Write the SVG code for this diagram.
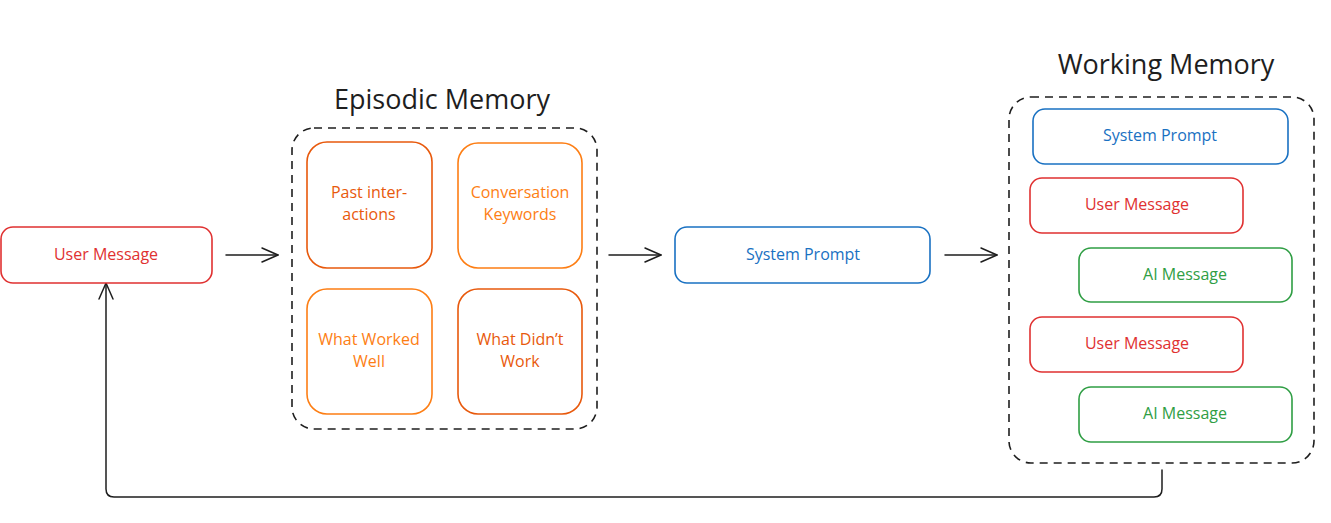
<svg xmlns="http://www.w3.org/2000/svg" width="1331" height="523" viewBox="0 0 1331 523">
<defs>
<marker id="arr" viewBox="0 0 20 20" refX="18" refY="10" markerWidth="20" markerHeight="20" markerUnits="userSpaceOnUse" orient="auto">
<path d="M2,3 L18,10 L2,17" fill="none" stroke="#1e1e1e" stroke-width="1.5" stroke-linecap="round" stroke-linejoin="round"/>
</marker>
</defs>
<style>
text{font-family:"Open Sans","Noto Sans","Liberation Sans",sans-serif;text-anchor:middle;dominant-baseline:central}
.lbl{font-size:16px}
.title{font-size:27px;fill:#1e1e1e}
.box{fill:#ffffff;stroke-width:1.6}
.red{stroke:#e03131}.redt{fill:#e03131}
.blue{stroke:#1971c2}.bluet{fill:#1971c2}
.green{stroke:#2f9e44}.greent{fill:#2f9e44}
.org{stroke:#e8590c}.orgt{fill:#e8590c}
.org2{stroke:#fd7e14}.org2t{fill:#fd7e14}
.cont{fill:none;stroke:#1e1e1e;stroke-width:1.6;stroke-dasharray:8 6}
.conn{fill:none;stroke:#1e1e1e;stroke-width:1.5;stroke-linecap:round}
</style>
<rect width="1331" height="523" fill="#ffffff"/>

<g id="episodic-memory">
<rect class="cont" x="292" y="128" width="305" height="301" rx="22"/>
<text class="title" x="442" y="98">Episodic Memory</text>
</g>
<g id="working-memory">
<rect class="cont" x="1009" y="97" width="305" height="366" rx="22"/>
<text class="title" x="1166" y="63">Working Memory</text>
</g>

<g id="connectors">
<line class="conn" x1="226" y1="255" x2="278" y2="255" marker-end="url(#arr)"/>
<line class="conn" x1="609" y1="255" x2="661" y2="255" marker-end="url(#arr)"/>
<line class="conn" x1="945" y1="255" x2="997" y2="255" marker-end="url(#arr)"/>
<path class="conn" d="M1162,470 L1162,489 Q1162,497 1154,497 L114,497 Q106,497 106,489 L106,283" marker-end="url(#arr)"/>
</g>

<g id="user-message">
<rect class="box red" x="1" y="227" width="211" height="56" rx="12"/>
<text class="lbl redt" x="106" y="254">User Message</text>
</g>

<g id="past-interactions">
<rect class="box org" x="307" y="142" width="125" height="126" rx="20"/>
<text class="lbl orgt" x="369" y="192">Past inter-</text>
<text class="lbl orgt" x="369" y="214">actions</text>
</g>
<g id="conversation-keywords">
<rect class="box org2" x="458" y="143" width="124" height="125" rx="20"/>
<text class="lbl org2t" x="520" y="192">Conversation</text>
<text class="lbl org2t" x="520" y="214">Keywords</text>
</g>
<g id="what-worked-well">
<rect class="box org2" x="307" y="289" width="125" height="125" rx="20"/>
<text class="lbl org2t" x="369" y="339">What Worked</text>
<text class="lbl org2t" x="369" y="361">Well</text>
</g>
<g id="what-didnt-work">
<rect class="box org" x="458" y="289" width="124" height="125" rx="20"/>
<text class="lbl orgt" x="520" y="339">What Didn’t</text>
<text class="lbl orgt" x="520" y="361">Work</text>
</g>

<g id="system-prompt">
<rect class="box blue" x="675" y="227" width="255" height="56" rx="12"/>
<text class="lbl bluet" x="803" y="254">System Prompt</text>
</g>

<g id="wm-system-prompt">
<rect class="box blue" x="1033" y="109" width="255" height="55" rx="12"/>
<text class="lbl bluet" x="1160" y="135">System Prompt</text>
</g>
<g id="wm-user-message-1">
<rect class="box red" x="1030" y="178" width="213" height="55" rx="12"/>
<text class="lbl redt" x="1137" y="204">User Message</text>
</g>
<g id="wm-ai-message-1">
<rect class="box green" x="1079" y="248" width="213" height="54" rx="12"/>
<text class="lbl greent" x="1185" y="274">AI Message</text>
</g>
<g id="wm-user-message-2">
<rect class="box red" x="1030" y="317" width="213" height="55" rx="12"/>
<text class="lbl redt" x="1137" y="343">User Message</text>
</g>
<g id="wm-ai-message-2">
<rect class="box green" x="1079" y="387" width="213" height="55" rx="12"/>
<text class="lbl greent" x="1185" y="413">AI Message</text>
</g>
</svg>
